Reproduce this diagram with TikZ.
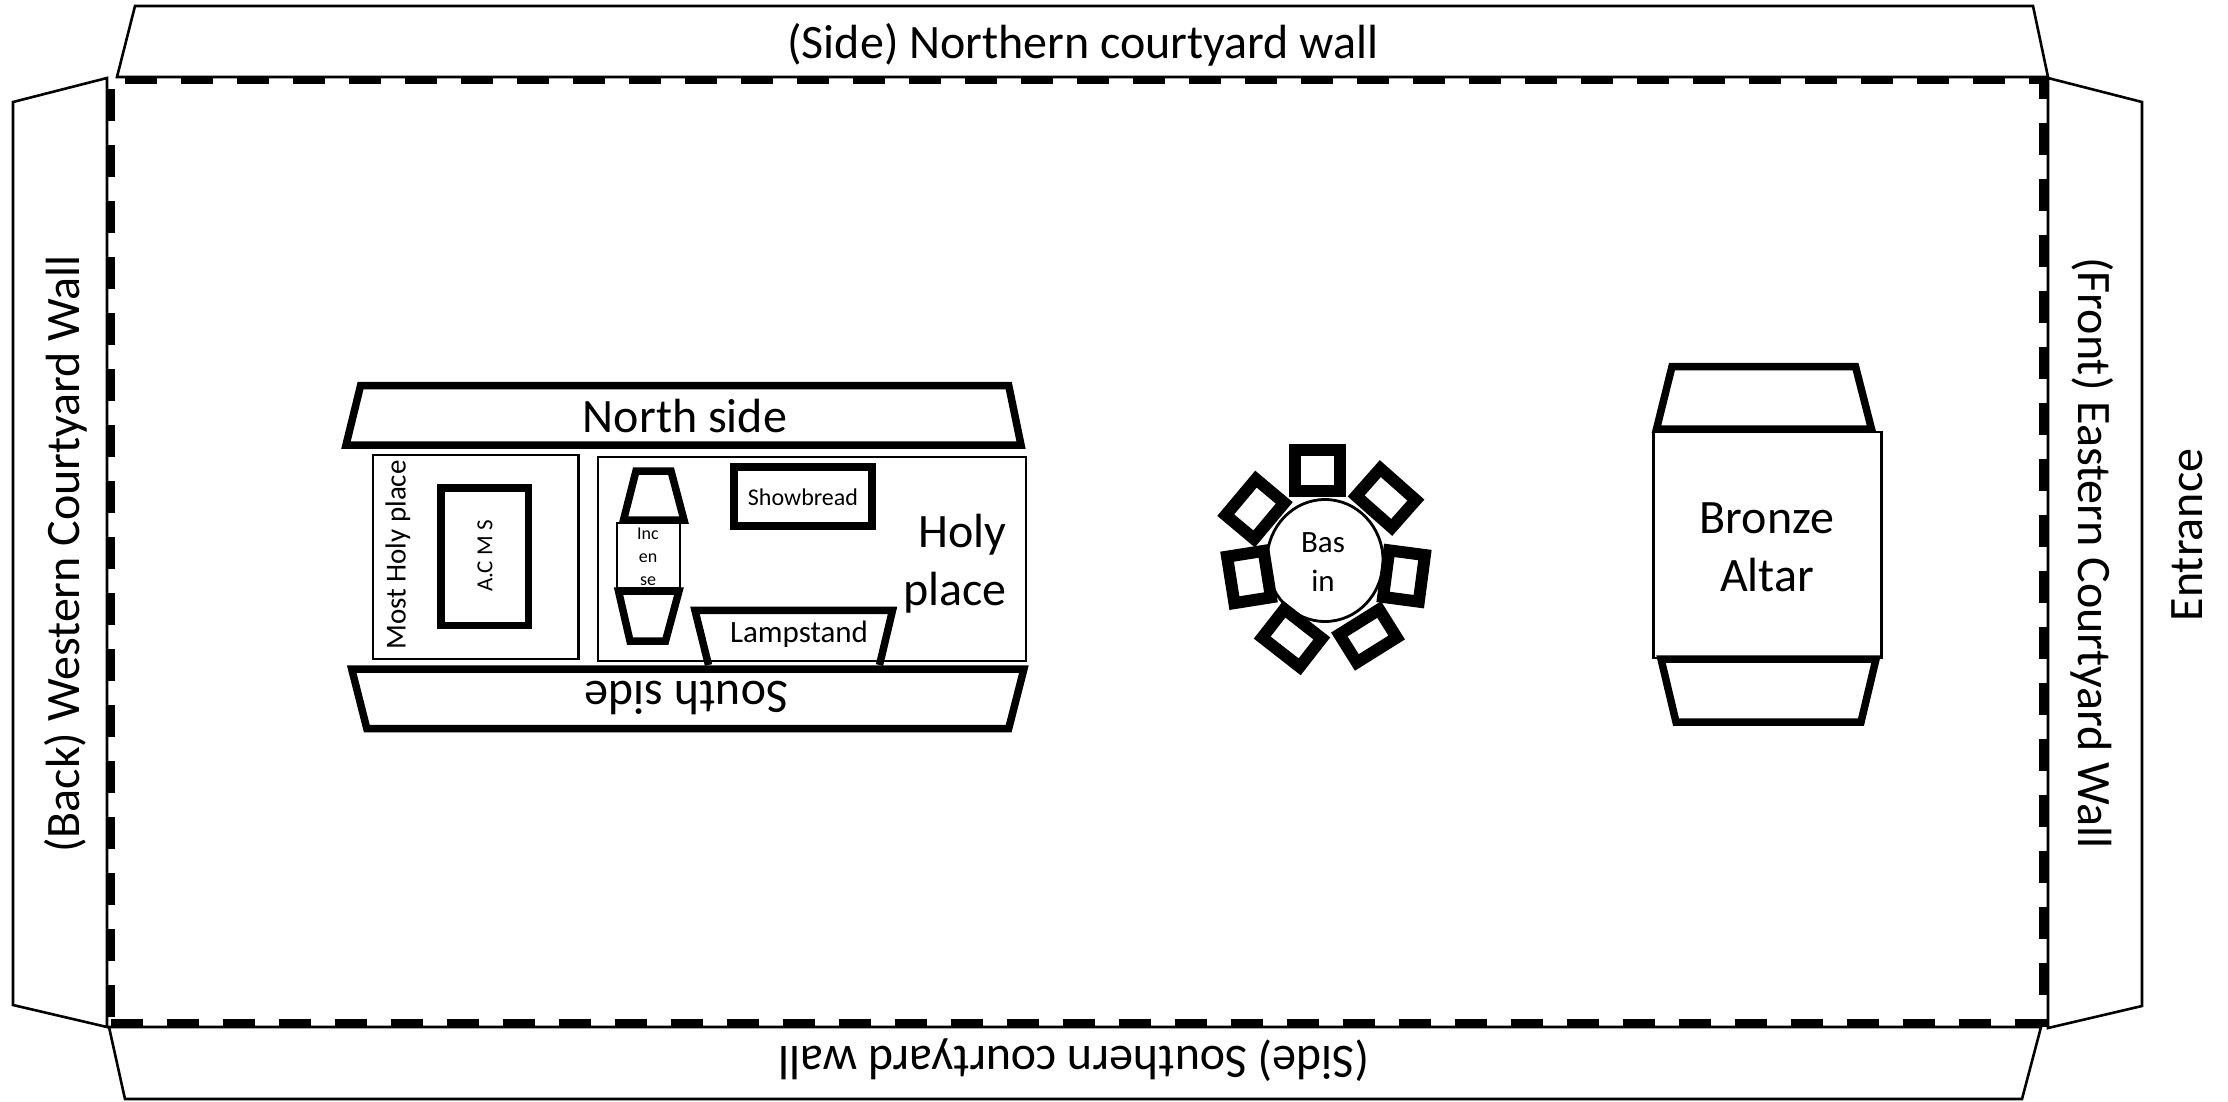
\documentclass[tikz,border=0pt]{standalone}
\usepackage{fontspec}
\setmainfont{Carlito}
\usepackage{tikz}
\tikzset{
    wall/.style={draw, line width=2.6pt, line join=miter},
    heavy/.style={draw, line width=7.5pt, line join=miter},
    plainbox/.style={draw, line width=2.4pt, fill=white},
    fence/.style={line width=8pt, dash pattern=on 32pt off 24pt},
    stand/.style={draw, line width=12pt, fill=white, inner sep=0pt, outer sep=0pt},
    biglabel/.style={font=\fontsize{48}{58}\selectfont, align=center}
}
\begin{document}
\begin{tikzpicture}[x=1pt, y=-1pt]
    \useasboundingbox (0,0) rectangle (2228,1101);

    % Courtyard walls folded outwards
    \draw[wall] (135,6) -- (2033,6) -- (2048,77) -- (117,77) -- cycle;
    \draw[wall] (107,78) -- (13,102) -- (13,1005) -- (107,1027) -- cycle;
    \draw[wall] (2048,78) -- (2142,102) -- (2142,1006) -- (2048,1028) -- cycle;
    \draw[wall] (109,1027) -- (2041,1027) -- (2022,1099) -- (125,1099) -- cycle;

    % Dashed courtyard fence
    \draw[fence] (125,80) -- (2047,80);
    \draw[fence] (2047,1023) -- (111,1023);
    \draw[fence] (111,89) -- (111,1027);
    \draw[fence] (2042.5,995) -- (2042.5,78);

    % Tabernacle rooms
    \node[plainbox, minimum width=205.5pt, minimum height=204pt, inner sep=0pt] (mostholy) at (475.6,557) {};
    \node[plainbox, minimum width=428pt, minimum height=204pt, inner sep=0pt] (holy) at (812,559) {};

    % Tabernacle sides
    \draw[heavy] (360.6,385.5) -- (1008.7,385.5) -- (1021,445) -- (346,445) -- cycle;
    \draw[heavy] (708.5,665) -- (695,610.4) -- (892.5,610.4) -- (879.5,665);
    \draw[heavy] (351.7,669) -- (1023.9,669) -- (1008.7,728.5) -- (366.8,728.5) -- cycle;

    % Furniture of the tabernacle
    \draw[heavy] (441,488) rectangle (528.7,625.5);
    \draw[heavy] (734,467) rectangle (872,526);
    \node[plainbox, minimum width=63pt, minimum height=65pt, inner sep=0pt] (incense) at (648.5,555.5) {};
    \draw[heavy] (636,471) -- (671,471) -- (684,520) -- (623.5,520) -- cycle;
    \draw[heavy] (618.5,591) -- (679,591) -- (665.5,641) -- (630,641) -- cycle;

    % Basin with its stands
    \draw[line width=2.8pt, fill=white] (1325,560.5) ellipse (58 and 61);
    \node[stand, minimum width=45pt, minimum height=41pt] (stand1) at (1317.5,470) {};
    \node[stand, minimum width=47.5pt, minimum height=36.5pt, rotate=-41.5] (stand2) at (1386,498) {};
    \node[stand, minimum width=36pt, minimum height=47pt, rotate=-7.5] (stand3) at (1404,576) {};
    \node[stand, minimum width=47pt, minimum height=33pt, rotate=32] (stand4) at (1368,636) {};
    \node[stand, minimum width=47.5pt, minimum height=36pt, rotate=-38] (stand5) at (1292,638) {};
    \node[stand, minimum width=37pt, minimum height=47pt, rotate=9] (stand6) at (1249,577) {};
    \node[stand, minimum width=37pt, minimum height=47pt, rotate=-40] (stand7) at (1255,509) {};

    % Bronze altar
    \node[plainbox, minimum width=228pt, minimum height=226pt, inner sep=0pt] (altarbox) at (1767.5,545) {};
    \draw[heavy] (1672,366.5) -- (1855.5,366.5) -- (1871.5,429) -- (1656.5,429) -- cycle;
    \draw[heavy] (1661,659) -- (1876,659) -- (1861,722) -- (1676,722) -- cycle;

    % Wall labels
    \node[biglabel] (northlabel) at (1083,44.5) {(Side) Northern courtyard wall};
    \node[biglabel, rotate=180] (southlabel) at (1074,1060) {(Side) Southern courtyard wall};
    \node[biglabel, rotate=90] (westlabel) at (66,554) {(Back) Western Courtyard Wall};
    \node[biglabel, rotate=270] (eastlabel) at (2092,553) {(Front) Eastern Courtyard Wall};
    \node[biglabel, rotate=90] (entrance) at (2187,535) {Entrance};

    % Labels inside the tabernacle
    \node[biglabel] (northside) at (685,416.5) {North side};
    \node[biglabel, rotate=180] (southside) at (686.5,697.5) {South side};
    \node[biglabel, align=right, anchor=east] (holylabel) at (1010,564) {Holy\\place};
    \node[font=\fontsize{29}{31}\selectfont, rotate=90] (mostholylabel) at (398,555) {Most Holy place};
    \node[font=\fontsize{23}{25}\selectfont, rotate=90] (arklabel) at (485,556) {A.C M S};
    \node[font=\fontsize{24}{26}\selectfont] (showbread) at (803,497.5) {Showbread};
    \node[font=\fontsize{31}{33}\selectfont] (lampstand) at (799,634.5) {Lampstand};
    \node[font=\fontsize{18}{23}\selectfont, align=center] (incenselabel) at (648,557) {Inc\\en\\se};

    % Labels on basin and altar
    \node[font=\fontsize{31}{39}\selectfont, align=center] (basin) at (1323,562) {Bas\\in};
    \node[biglabel] (altar) at (1767,547) {Bronze\\Altar};
\end{tikzpicture}
\end{document}
